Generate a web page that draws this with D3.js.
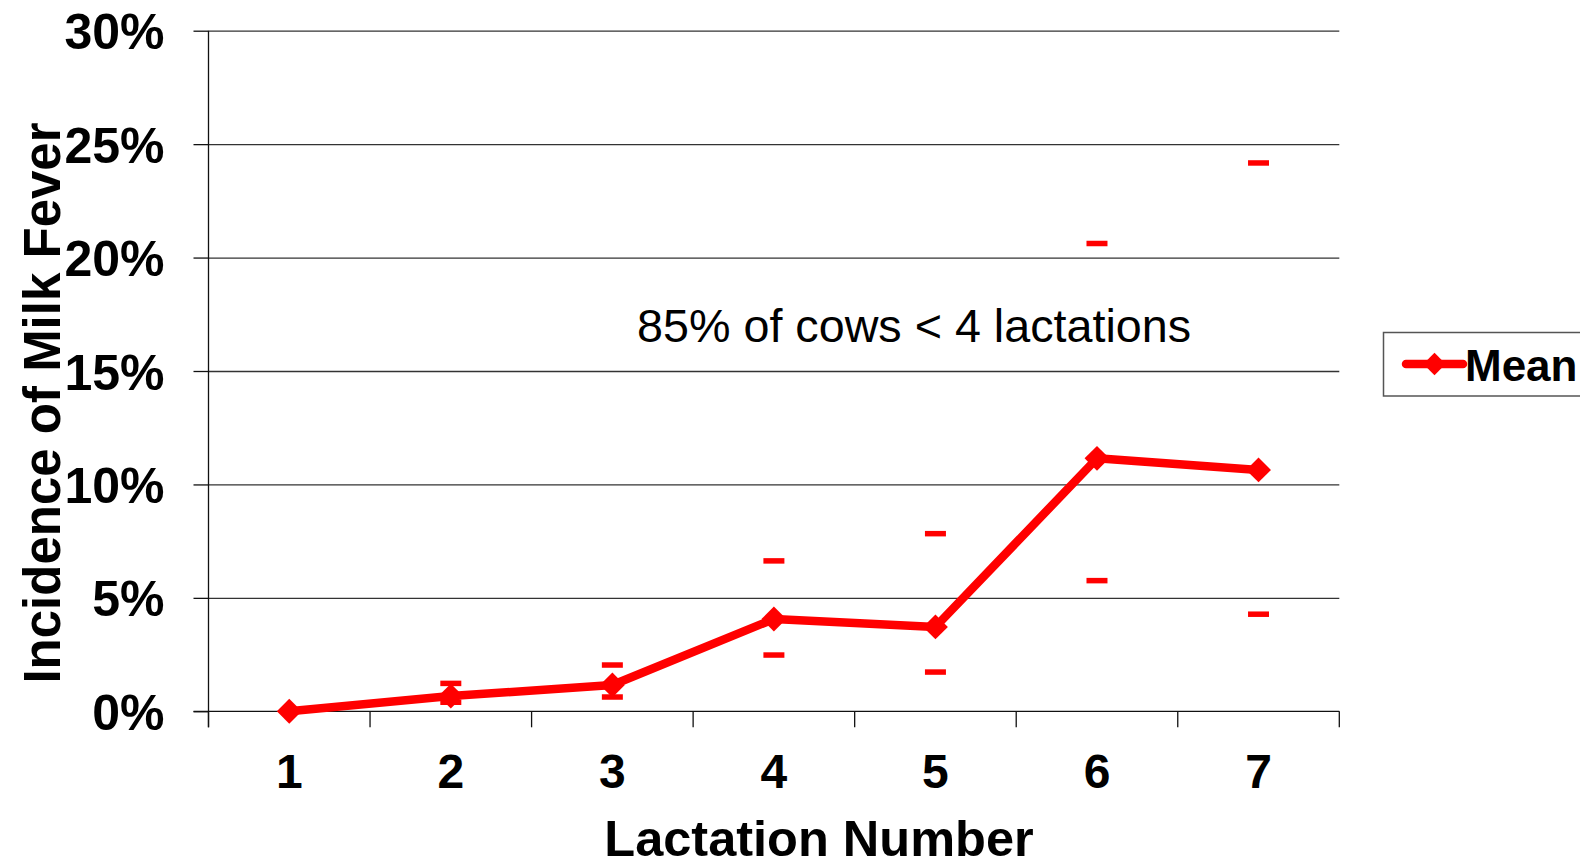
<!DOCTYPE html>
<html>
<head>
<meta charset="utf-8">
<script src="https://cdn.jsdelivr.net/npm/d3@7"></script>
<style>
  html, body { margin: 0; padding: 0; background: #fff; overflow: hidden; }
  svg { display: block; font-family: "Liberation Sans", Arial, sans-serif; }
</style>
</head>
<body>
<svg id="chart" width="1580" height="866"></svg>
<script>
// Incidence of milk fever by lactation number: mean with upper/lower limits
const lactations = [1, 2, 3, 4, 5, 6, 7];
const meanIncidence = [0.000, 0.0067, 0.0116, 0.0407, 0.0372, 0.1115, 0.1064];
const upperLimit = [null, 0.0123, 0.0204, 0.0663, 0.0783, 0.2062, 0.2417];
const lowerLimit = [null, 0.0040, 0.0063, 0.0248, 0.0173, 0.0576, 0.0428];
const yTicks = [0, 0.05, 0.10, 0.15, 0.20, 0.25, 0.30];

const svg = d3.select("#chart");
const plot = { left: 208.5, right: 1339.3, top: 30.7, bottom: 711.3 };
const RED = "#FF0000";

const x = d3.scaleBand().domain(lactations).range([plot.left, plot.right]).padding(0);
const cx = d => x(d) + x.bandwidth() / 2;
const y = d3.scaleLinear().domain([0, 0.30]).range([plot.bottom, plot.top]);

// horizontal gridlines
svg.append("g")
  .attr("transform", `translate(${plot.left},0)`)
  .call(d3.axisLeft(y).tickValues(yTicks.slice(1)).tickSize(-(plot.right - plot.left)).tickFormat(""))
  .call(g => g.select(".domain").remove())
  .call(g => g.selectAll("line").attr("stroke", "#333").attr("stroke-width", 1.3));

// y axis with outward ticks and percentage labels
svg.append("g")
  .attr("transform", `translate(${plot.left},0)`)
  .call(d3.axisLeft(y).tickValues(yTicks).tickSize(15).tickSizeOuter(0).tickPadding(29)
    .tickFormat(d3.format(".0%")))
  .call(g => g.select(".domain").attr("d", `M0,${plot.top}V${plot.bottom + 16}`)
    .attr("stroke", "#111").attr("stroke-width", 1.3))
  .call(g => g.selectAll("line").attr("stroke", "#111").attr("stroke-width", 1.3))
  .call(g => g.selectAll("text")
    .attr("font-family", "'Liberation Sans', Arial, sans-serif")
    .attr("font-size", 50).attr("font-weight", "bold").attr("fill", "#000")
    .attr("dy", "0.36em"));

// x axis: baseline, boundary ticks between categories, centred labels
const xg = svg.append("g").attr("transform", `translate(0,${plot.bottom})`);
xg.call(d3.axisBottom(x).tickSize(0).tickPadding(42))
  .call(g => g.select(".domain").attr("d", `M${plot.left - 15},0H${plot.right}`)
    .attr("stroke", "#111").attr("stroke-width", 1.3))
  .call(g => g.selectAll("text")
    .attr("font-family", "'Liberation Sans', Arial, sans-serif")
    .attr("font-size", 48).attr("font-weight", "bold").attr("fill", "#000")
    .attr("dy", "0.72em"));
const boundaries = lactations.map(d => x(d)).concat([x(lactations[lactations.length - 1]) + x.bandwidth()]);
xg.selectAll("line.bound").data(boundaries).join("line")
  .attr("class", "bound")
  .attr("x1", d => d).attr("x2", d => d)
  .attr("y1", 0).attr("y2", 16)
  .attr("stroke", "#111").attr("stroke-width", 1.3);

// axis titles
svg.append("text")
  .attr("x", 819).attr("y", 856)
  .attr("text-anchor", "middle")
  .attr("font-size", 50.5).attr("font-weight", "bold")
  .text("Lactation Number");

svg.append("text")
  .attr("transform", `translate(60,${(plot.top + plot.bottom) / 2 + 32}) rotate(-90)`)
  .attr("text-anchor", "middle")
  .attr("font-size", 51).attr("font-weight", "bold")
  .text("Incidence of Milk Fever");

// annotation
svg.append("text")
  .attr("x", 637).attr("y", 342)
  .attr("font-size", 46.7)
  .text("85% of cows < 4 lactations");

// limit caps
const caps = [];
lactations.forEach((d, i) => {
  if (upperLimit[i] != null) caps.push({ k: d, v: upperLimit[i] });
  if (lowerLimit[i] != null) caps.push({ k: d, v: lowerLimit[i] });
});
svg.append("g").selectAll("line").data(caps).join("line")
  .attr("x1", d => cx(d.k) - 10.5).attr("x2", d => cx(d.k) + 10.5)
  .attr("y1", d => y(d.v)).attr("y2", d => y(d.v))
  .attr("stroke", RED).attr("stroke-width", 5.5);

// mean line and diamond markers
const series = lactations.map((d, i) => ({ k: d, v: meanIncidence[i] }));
svg.append("path")
  .datum(series)
  .attr("fill", "none").attr("stroke", RED).attr("stroke-width", 8.5)
  .attr("stroke-linejoin", "round")
  .attr("d", d3.line().x(d => cx(d.k)).y(d => y(d.v)));

const diamond = d3.symbol(d3.symbolSquare, 310);
svg.append("g").selectAll("path").data(series).join("path")
  .attr("transform", d => `translate(${cx(d.k)},${y(d.v)}) rotate(45)`)
  .attr("d", diamond).attr("fill", RED);

// legend
const lg = svg.append("g");
lg.append("rect")
  .attr("x", 1383.5).attr("y", 332.5).attr("width", 260).attr("height", 63.5)
  .attr("fill", "#fff").attr("stroke", "#555").attr("stroke-width", 1.5);
lg.append("line")
  .attr("x1", 1406).attr("x2", 1463).attr("y1", 364).attr("y2", 364)
  .attr("stroke", RED).attr("stroke-width", 8.5).attr("stroke-linecap", "round");
lg.append("path")
  .attr("transform", "translate(1434.5,364) rotate(45)")
  .attr("d", d3.symbol(d3.symbolSquare, 250)).attr("fill", RED);
lg.append("text")
  .attr("x", 1465).attr("y", 381)
  .attr("font-size", 44).attr("font-weight", "bold")
  .text("Mean");
</script>
</body>
</html>
